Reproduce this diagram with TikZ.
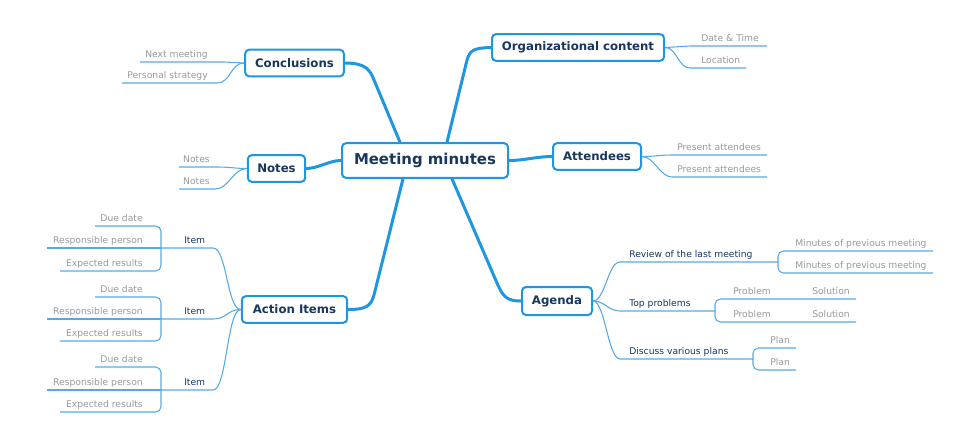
\documentclass[tikz,border=0pt]{standalone}
\usepackage{fontspec}
\setmainfont{DejaVu Sans}
\usetikzlibrary{calc}
\definecolor{mainblue}{HTML}{1E96E0}
\definecolor{thinblue}{HTML}{55AAE6}
\definecolor{navy}{HTML}{17375E}
\definecolor{leafgray}{HTML}{999999}
\begin{document}
\begin{tikzpicture}[x=0.75pt,y=-0.75pt,
 box/.style={draw=mainblue, line width=1.5pt, rounded corners=3pt, fill=white, text=navy,
   font=\bfseries\fontsize{8.8}{10}\selectfont, inner sep=0pt, minimum height=20pt},
 mainline/.style={draw=mainblue, line width=2.25pt, line cap=round},
 thinline/.style={draw=thinblue, line width=0.8pt},
 bracket/.style={draw=thinblue, line width=0.8pt, rounded corners=4pt},
 leaf/.style={text=leafgray, font=\fontsize{6.9}{8}\selectfont, inner sep=0pt},
 sub/.style={text=navy, font=\fontsize{6.9}{8}\selectfont, inner sep=0pt, anchor=base west},
]
\useasboundingbox (0,0) rectangle (953,437);

% main nodes
\node[box, minimum width=124.5pt, minimum height=26pt, font=\bfseries\fontsize{11.2}{13}\selectfont] (center) at (425,160.5) {Meeting minutes};
\node[box, minimum width=74pt] (concl) at (294.5,63) {Conclusions};
\node[box, minimum width=43pt] (notes) at (276.5,168.5) {Notes};
\node[box, minimum width=129pt] (org) at (578,47.5) {Organizational content};
\node[box, minimum width=66pt] (att) at (597,156.5) {Attendees};
\node[box, minimum width=52.5pt, minimum height=21pt] (agenda) at (557,301) {Agenda};
\node[box, minimum width=79pt] (action) at (294.5,309.5) {Action Items};

% main connectors
\draw[mainline] (concl.east) .. controls (366,63) and (370,70) .. (374,80) -- ($(center.north)+(-25,0)$);
\draw[mainline] ($(center.north)+(22,0)$) -- (467,60) .. controls (470,50) and (474,48) .. (org.west);
\draw[mainline] (center.east) .. controls +(15,0) and +(-15,0) .. (att.west);
\draw[mainline] (center.west) .. controls +(-12,0) and +(12,0) .. (notes.east);
\draw[mainline] ($(center.south)+(-22,0)$) -- (374,295) .. controls (371,306) and (366,309.5) .. (action.east);
\draw[mainline] ($(center.south)+(27,0)$) -- (497,283) .. controls (503,297) and (507,301) .. (agenda.west);

% Conclusions leaves
\coordinate (cl1) at (224,62); \coordinate (cl2) at (217,83);
\draw[thinline] (concl.west) .. controls +(-10,0) and +(10,0) .. (cl1) -- (140,62);
\draw[thinline] (concl.west) .. controls +(-14,0) and +(14,0) .. (cl2) -- (122,83);
\node[leaf, anchor=base east] (clt1) at (208,57) {Next meeting};
\node[leaf, anchor=base east] (clt2) at (208,78) {Personal strategy};

% Notes leaves
\coordinate (nt1) at (218,167); \coordinate (nt2) at (215,189);
\draw[thinline] (notes.west) .. controls +(-10,0) and +(10,0) .. (nt1) -- (179,167);
\draw[thinline] (notes.west) .. controls +(-14,0) and +(14,0) .. (nt2) -- (179,189);
\node[leaf, anchor=base east] (ntt1) at (210,162) {Notes};
\node[leaf, anchor=base east] (ntt2) at (210,184) {Notes};

% Organizational leaves
\coordinate (og1) at (690,46); \coordinate (og2) at (690,68);
\draw[thinline] (org.east) .. controls +(12,0) and +(-12,0) .. (og1) -- (767,46);
\draw[thinline] (org.east) .. controls +(12,0) and +(-12,0) .. (og2) -- (746,68);
\node[leaf, anchor=base west] (ogt1) at (701,41) {Date \& Time};
\node[leaf, anchor=base west] (ogt2) at (701,63) {Location};

% Attendees leaves
\coordinate (at1) at (672,155); \coordinate (at2) at (672,177);
\draw[thinline] (att.east) .. controls +(12,0) and +(-12,0) .. (at1) -- (767,155);
\draw[thinline] (att.east) .. controls +(12,0) and +(-12,0) .. (at2) -- (767,177);
\node[leaf, anchor=base west] (att1) at (677,150) {Present attendees};
\node[leaf, anchor=base west] (att2) at (677,172) {Present attendees};

% Agenda sub-branches
\coordinate (rv0) at (620,262); \coordinate (rv1) at (778,262);
\coordinate (tp0) at (620,311); \coordinate (tp1) at (715,311);
\coordinate (dp0) at (620,359); \coordinate (dp1) at (753,359);
\draw[thinline] (agenda.east) .. controls +(12,0) and +(-12,0) .. (rv0) -- (rv1);
\draw[thinline] (agenda.east) .. controls +(12,0) and +(-12,0) .. (tp0) -- (tp1);
\draw[thinline] (agenda.east) .. controls +(12,0) and +(-12,0) .. (dp0) -- (dp1);
\node[sub] (rvt) at (629,257) {Review of the last meeting};
\node[sub] (tpt) at (629,306) {Top problems};
\node[sub] (dpt) at (629,354) {Discuss various plans};

\draw[bracket] (rv1) |- (933,251);
\draw[bracket] (rv1) |- (933,273);
\node[leaf, anchor=base west] (mp1) at (795,246) {Minutes of previous meeting};
\node[leaf, anchor=base west] (mp2) at (795,268) {Minutes of previous meeting};

\draw[bracket] (tp1) |- (856,299);
\draw[bracket] (tp1) |- (856,322);
\node[leaf, anchor=base west] (pb1) at (733,294) {Problem};
\node[leaf, anchor=base west] (so1) at (812,294) {Solution};
\node[leaf, anchor=base west] (pb2) at (733,317) {Problem};
\node[leaf, anchor=base west] (so2) at (812,317) {Solution};

\draw[bracket] (dp1) |- (796,348);
\draw[bracket] (dp1) |- (796,370);
\node[leaf, anchor=base west] (pl1) at (770,343) {Plan};
\node[leaf, anchor=base west] (pl2) at (770,365) {Plan};

% Action items
\foreach \i/\yd/\yr/\ye in {1/226/248/271, 2/297/319/341, 3/367/390/412} {
  \coordinate (br\i) at (161,\yr);
  \coordinate (it\i) at (213,\yr);
  \draw[thinline] (action.west) .. controls +(-14,0) and +(14,0) .. (it\i) -- (br\i);
  \node[sub] (item\i) at (184,\yr-5) {Item};
  \draw[thinline] (br\i) -- (47,\yr);
  \draw[bracket] (br\i) |- (95,\yd);
  \draw[bracket] (br\i) |- (60,\ye);
  \node[leaf, anchor=base east] (due\i) at (143,\yd-5) {Due date};
  \node[leaf, anchor=base east] (res\i) at (143,\yr-5) {Responsible person};
  \node[leaf, anchor=base east] (exp\i) at (143,\ye-5) {Expected results};
}
\end{tikzpicture}
\end{document}
